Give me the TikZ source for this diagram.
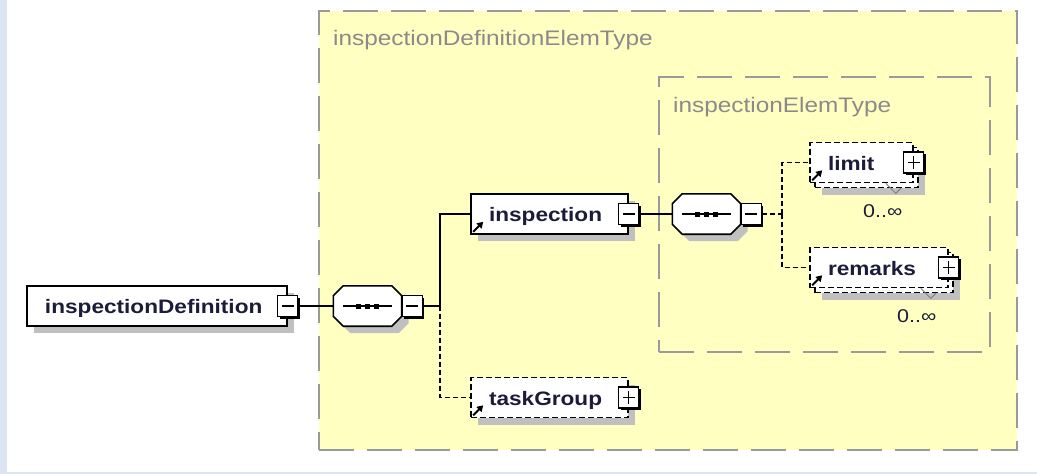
\documentclass[tikz,border=0pt]{standalone}
\usepackage{fontspec}
\setmainfont{Liberation Sans}[FakeStretch=1.16]
\usepackage{tikz}
\definecolor{typeyellow}{HTML}{FFFFC2}
\definecolor{typegray}{HTML}{9A9A9A}
\definecolor{labelgray}{HTML}{8A8A8A}
\definecolor{shadowgray}{HTML}{C0C0C0}
\definecolor{bgblue}{HTML}{DCE6F2}
\definecolor{textnavy}{HTML}{1C1C3A}
\usetikzlibrary{arrows.meta, shadows}
\tikzstyle{typebox}=[draw=typegray, fill=typeyellow, line width=2.5pt, dash pattern=on 35pt off 13pt]
\tikzstyle{typelabel}=[text=labelgray, font=\fontsize{21}{24}\selectfont, inner sep=0pt, anchor=base west]
\tikzstyle{elem}=[draw=black, fill=white, line width=1.6pt, minimum height=40pt, inner xsep=18pt, align=left, text height=15pt, text depth=0pt, text=textnavy, font=\fontsize{19.5}{22}\selectfont\bfseries]
\tikzstyle{opt}=[dash pattern=on 6pt off 3pt]
\tikzstyle{boxshadow}=[drop shadow={shadow xshift=7pt, shadow yshift=-7pt, fill=shadowgray, opacity=1}]
\tikzstyle{btn}=[draw=black, fill=white, line width=1.3pt, minimum width=20pt, minimum height=21pt, inner sep=0pt, drop shadow={shadow xshift=2pt, shadow yshift=-2pt, fill=black, opacity=1}]
\tikzstyle{btnminus}=[btn, path picture={\draw[line width=1.3pt] ([xshift=4pt]path picture bounding box.west) -- ([xshift=-4pt]path picture bounding box.east);}]
\tikzstyle{btnplus}=[btn, path picture={\draw[line width=1.3pt] ([xshift=4pt]path picture bounding box.west) -- ([xshift=-4pt]path picture bounding box.east); \draw[line width=1.3pt] ([yshift=4pt]path picture bounding box.south) -- ([yshift=-4pt]path picture bounding box.north);}]
\tikzstyle{seq}=[minimum width=68pt, minimum height=40pt, inner sep=0pt]
\tikzstyle{seqframe}=[draw=black, fill=white, line width=1.6pt, boxshadow]
\tikzstyle{seqline}=[line width=1.5pt]
\tikzstyle{conn}=[draw=black, line width=1.6pt]
\tikzstyle{connopt}=[conn, dash pattern=on 5pt off 3pt]
\tikzstyle{refarrow}=[line width=2pt, -{Triangle[length=6pt, width=7pt]}]
\tikzstyle{occurs}=[font=\fontsize{18.5}{20}\selectfont, text=textnavy, inner sep=0pt, anchor=base west]
\tikzstyle{occtick}=[draw=gray, line width=1pt]

\begin{document}
\begin{tikzpicture}[x=1pt, y=-1pt]
	\useasboundingbox (0,0) rectangle (1037,474);
	\fill[white] (0,0) rectangle (1037,474);
	\fill[bgblue] (0,0) rectangle (7,474);
	\fill[bgblue] (0,472) rectangle (1037,474);
	\node[typebox, minimum width=698pt, minimum height=439pt] (deftype) at (668,230.5) {};
	\node[typelabel] (deftypelabel) at (333,45) {inspectionDefinitionElemType};
	\node[typebox, minimum width=331pt, minimum height=275pt] (elemtype) at (824.5,214.5) {};
	\node[typelabel] (elemtypelabel) at (673,112) {inspectionElemType};
	\node[elem, boxshadow, text width=224pt] (def) at (157,306) {inspectionDefinition};
	\node[btnminus] (defbtn) at (def.east) {};
	\node[seq] (seq1) at (367.5,306) {};
	\node[seq] (seq2) at (706.5,214) {};
	\foreach \s in {seq1, seq2} {
		\draw[seqframe] ([xshift=10pt]\s.north west) -- ([xshift=-10pt]\s.north east) -- ([yshift=-10pt]\s.north east) -- ([yshift=10pt]\s.south east) -- ([xshift=-10pt]\s.south east) -- ([xshift=10pt]\s.south west) -- ([yshift=10pt]\s.south west) -- ([yshift=-10pt]\s.north west) -- cycle;
		\draw[seqline] ([xshift=10pt]\s.west) -- ([xshift=-10pt]\s.east);
		\foreach \k in {-9,0,9}
			\fill ([xshift=\k pt]\s.center) +(-2.5,-2.5) rectangle +(2.5,2.5);
	}
	\node[btnminus, anchor=west] (seq1btn) at (seq1.east) {};
	\coordinate (j1) at (440,306);
	\node[elem, boxshadow, text width=121pt] (insp) at (549.5,214) {inspection};
	\node[btnminus] (inspbtn) at (insp.east) {};
	\node[btnminus, anchor=west] (seq2btn) at (seq2.east) {};
	\coordinate (j2) at (782,214);
	\node[elem, opt, boxshadow, minimum width=103pt] (limitback) at (866.5,167.5) {};
	\node[elem, opt, text width=67pt] (limit) at (861.5,162.5) {limit};
	\node[btnplus] (limitbtn) at (limit.east) {};
	\node[occurs] (limitocc) at (863,217) {0..∞};
	\node[elem, opt, boxshadow, minimum width=138pt] (remarksback) at (884,272.5) {};
	\node[elem, opt, text width=102pt] (remarks) at (879,267.5) {remarks};
	\node[btnplus] (remarksbtn) at (remarks.east) {};
	\node[occurs] (remarksocc) at (897,322) {0..∞};
	\node[elem, opt, boxshadow, text width=121pt] (task) at (549.5,397.5) {taskGroup};
	\node[btnplus] (taskbtn) at (task.east) {};
	\draw[conn] (defbtn.east) -- (seq1.west);
	\draw[conn] (seq1btn.east) -- (j1) |- (insp.west);
	\draw[connopt] (j1) |- (task.west);
	\draw[conn] (inspbtn.east) -- (seq2.west);
	\draw[connopt] (seq2btn.east) -- (j2);
	\draw[connopt] (j2) |- (limit.west);
	\draw[connopt] (j2) |- (remarks.west);
	\draw[refarrow] ([shift={(3,-3)}]insp.south west) -- ++(10,-10);
	\draw[refarrow] ([shift={(3,-3)}]limit.south west) -- ++(10,-10);
	\draw[refarrow] ([shift={(3,-3)}]remarks.south west) -- ++(10,-10);
	\draw[refarrow] ([shift={(3,-3)}]task.south west) -- ++(10,-10);
	\draw[occtick] ([xshift=-28pt]limit.south east) -- ++(10,10) -- ++(5,-5);
	\draw[occtick] ([xshift=-28pt]remarks.south east) -- ++(10,10) -- ++(5,-5);
\end{tikzpicture}
\end{document}
